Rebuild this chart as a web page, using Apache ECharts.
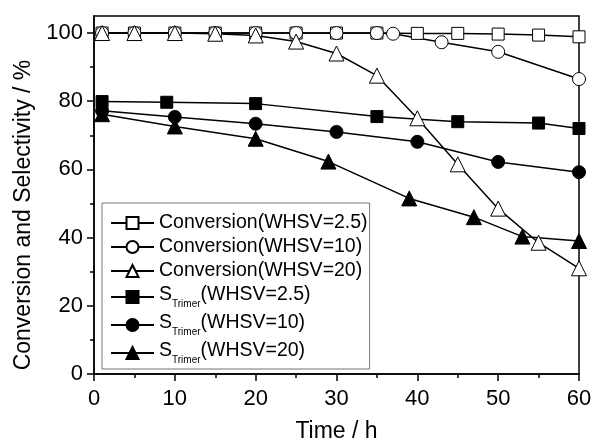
<!DOCTYPE html>
<html>
<head>
<meta charset="utf-8">
<script src="https://cdn.jsdelivr.net/npm/echarts@6/dist/echarts.min.js"></script>
<style>
html,body{margin:0;padding:0;background:#fff;}
#chart{width:594px;height:441px;}
</style>
</head>
<body>
<div id="chart"></div>
<script>
// ---- data ----
var conv25Time = [1, 5, 10, 15, 20, 25, 30, 35, 40, 45, 50, 55, 60];
var conv25Vals = [100, 100, 100, 100, 100, 100, 100, 100, 99.9, 99.9, 99.7, 99.4, 98.9];

var conv10Time = [1, 5, 10, 15, 20, 25, 30, 35, 37, 43, 50, 60];
var conv10Vals = [100, 100, 100, 100, 100, 100, 100, 100, 99.8, 97.3, 94.5, 86.5];

var conv20Time = [1, 5, 10, 15, 20, 25, 30, 35, 40, 45, 50, 55, 60];
var conv20Vals = [100, 100, 100, 99.8, 99.3, 97.5, 94, 87.5, 75, 61.5, 48.5, 38.5, 31];

var sel25Time = [1, 9, 20, 35, 45, 55, 60];
var sel25Vals = [79.9, 79.7, 79.3, 75.5, 74, 73.6, 72];

var sel10Time = [1, 10, 20, 30, 40, 50, 60];
var sel10Vals = [77.2, 75.4, 73.4, 71, 68.1, 62.2, 59.2];

var sel20Time = [1, 10, 20, 29, 39, 47, 53, 60];
var sel20Vals = [76.2, 72.6, 69, 62.3, 51.5, 46, 40.3, 39];

var seriesNames = ['Conversion(WHSV=2.5)', 'Conversion(WHSV=10)', 'Conversion(WHSV=20)',
                   'S_Trimer(WHSV=2.5)', 'S_Trimer(WHSV=10)', 'S_Trimer(WHSV=20)'];
var xTicks = [0, 10, 20, 30, 40, 50, 60];
var yMajorTicks = [0, 20, 40, 60, 80, 100];
var yMinorTicks = [10, 30, 50, 70, 90];
var xTitle = 'Time / h';
var yTitle = 'Conversion and Selectivity / %';

// ---- chart ----
var FONT = '"Liberation Sans", Arial, sans-serif';
function pairs(t, v) { return t.map(function (x, i) { return [x, v[i]]; }); }

function mk(name, t, v, symbol, size, open) {
  return {
    name: name, type: 'line', data: pairs(t, v),
    symbol: symbol, symbolSize: size,
    showAllSymbol: true,
    lineStyle: { color: '#000', width: 1.5 },
    itemStyle: open ? { color: '#fff', borderColor: '#000', borderWidth: 1 } : { color: '#000', borderColor: '#000', borderWidth: 1 },
    emphasis: { disabled: true },
    z: 2
  };
}

var chart = echarts.init(document.getElementById('chart'), null, { renderer: 'canvas' });
chart.setOption({
  animation: false,
  backgroundColor: '#fff',
  grid: { left: 94, right: 15, top: 16, bottom: 67, containLabel: false, outerBoundsMode: 'none',
          show: true, borderColor: '#000', borderWidth: 1.5, backgroundColor: 'transparent' },
  xAxis: {
    type: 'value', min: xTicks[0], max: xTicks[xTicks.length - 1], interval: 10,
    name: xTitle, nameLocation: 'middle', nameGap: 46,
    nameTextStyle: { fontFamily: FONT, fontSize: 23, color: '#000' },
    axisLine: { show: true, lineStyle: { color: '#000', width: 1.5 } },
    axisTick: { show: true, length: 7, lineStyle: { color: '#000', width: 1.5 } },
    minorTick: { show: true, splitNumber: 2, length: 4, lineStyle: { color: '#000', width: 1.5 } },
    axisLabel: { fontFamily: FONT, fontSize: 22, color: '#000', margin: 14 },
    splitLine: { show: false }
  },
  yAxis: [{
    type: 'value', min: 0, max: 105, position: 'left',
    name: yTitle, nameLocation: 'middle', nameGap: 58,
    nameTextStyle: { fontFamily: FONT, fontSize: 23, color: '#000', padding: [0, 40, 0, 0] },
    axisLine: { show: true, lineStyle: { color: '#000', width: 1.5 } },
    axisTick: { show: true, length: 7, customValues: yMajorTicks, lineStyle: { color: '#000', width: 1.5 } },
    axisLabel: { fontFamily: FONT, fontSize: 22, color: '#000', margin: 11, customValues: yMajorTicks },
    splitLine: { show: false }
  }, {
    type: 'value', min: 0, max: 105, position: 'left',
    axisLine: { show: false },
    axisTick: { show: true, length: 4, customValues: yMinorTicks, lineStyle: { color: '#000', width: 1.5 } },
    axisLabel: { show: false },
    splitLine: { show: false }
  }],
  legend: {
    orient: 'vertical', left: 102, top: 203,
    padding: [10, 2, 4, 8], itemGap: 4,
    itemWidth: 43, itemHeight: 15,
    borderColor: '#777', borderWidth: 1, backgroundColor: '#fff',
    data: seriesNames,
    textStyle: {
      fontFamily: FONT, fontSize: 19.5, color: '#000',
      rich: {
        n: { fontFamily: FONT, fontSize: 19.5, color: '#000', verticalAlign: 'top' },
        s: { fontFamily: FONT, fontSize: 10, color: '#000', verticalAlign: 'top', padding: [14, 0, 0, 0] }
      }
    },
    formatter: function (name) {
      if (name.indexOf('S_Trimer') === 0) {
        return '{n|S}{s|Trimer}{n|' + name.slice(8) + '}';
      }
      return '{n|' + name + '}';
    },
    z: 10
  },
  series: [
    mk(seriesNames[0], conv25Time, conv25Vals, 'rect', 12, true),
    mk(seriesNames[1], conv10Time, conv10Vals, 'circle', 13, true),
    mk(seriesNames[2], conv20Time, conv20Vals, 'triangle', 15, true),
    mk(seriesNames[3], sel25Time, sel25Vals, 'rect', 12, false),
    mk(seriesNames[4], sel10Time, sel10Vals, 'circle', 13, false),
    mk(seriesNames[5], sel20Time, sel20Vals, 'triangle', 15, false)
  ]
});
</script>
</body>
</html>
